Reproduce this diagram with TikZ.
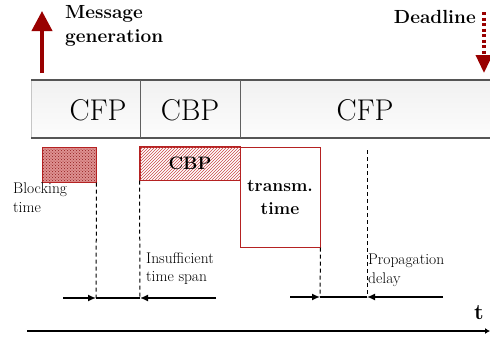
\documentclass[tikz,border=0pt]{standalone}
\usetikzlibrary{arrows.meta,patterns}
\definecolor{dred}{HTML}{990000}
\definecolor{bred}{HTML}{B52222}
\definecolor{hred}{HTML}{C84848}
\definecolor{dgray}{HTML}{555555}
\begin{document}
\begin{tikzpicture}[x=1pt,y=-1pt,
  bandtext/.style={font=\fontsize{30}{34}\selectfont, inner sep=0pt},
  lbl/.style={font=\fontsize{15.5}{18.5}\selectfont, align=left, inner sep=0pt, anchor=north west},
  boldlbl/.style={font=\fontsize{19}{24}\selectfont\bfseries, align=left, inner sep=0pt},
  redbox/.style={draw=bred, line width=1pt, inner sep=0pt},
  guide/.style={draw=black, line width=1pt, dash pattern=on 4pt off 3pt},
  span/.style={draw=black, line width=1.5pt, -{Latex[length=8pt,width=7pt]}},
  plain/.style={draw=black, line width=1.5pt}
]
\useasboundingbox (0,0) rectangle (490,341);

% frame band
\fill[top color=gray!11, bottom color=gray!2] (31,80) rectangle (490,138);
\draw[gray!45, line width=0.8pt] (31,80) -- (31,138);
\draw[dgray, line width=1.3pt] (31,80) -- (490,80);
\draw[dgray, line width=1.3pt] (31,138) -- (490,138);
\draw[gray!75!black, line width=1pt] (140,80) -- (140,138);
\draw[gray!75!black, line width=1pt] (240,80) -- (240,138);
\node[bandtext] (cfpa) at (98,110) {CFP};
\node[bandtext] (cbpa) at (190,110) {CBP};
\node[bandtext] (cfpb) at (365,110) {CFP};

% message generation
\coordinate (mgb) at (42,73);
\coordinate (mgt) at (42,11);
\draw[dred, line width=4pt, -{Triangle[width=20pt,length=20pt]}] (mgb) -- (mgt);
\node[boldlbl, anchor=north west] (msg) at (65,5) {Message\\generation};

% deadline
\coordinate (dlt) at (484,12);
\coordinate (dlb) at (484,73);
\draw[dred, line width=3.5pt, dash pattern=on 3pt off 2.5pt, -{Triangle[width=16pt,length=18pt]}] (dlt) -- (dlb);
\node[boldlbl, anchor=east] (dl) at (476,17) {Deadline};

% boxes
\node[redbox, minimum width=53pt, minimum height=34pt] (blk) at (69.5,165) {};
\fill[hred!60] (blk.south west) rectangle (blk.north east);
\fill[pattern=crosshatch dots, pattern color=bred!80!black] (blk.south west) rectangle (blk.north east);
\draw[bred, line width=1pt] (blk.south west) rectangle (blk.north east);

\node[redbox, minimum width=100pt, minimum height=33pt] (cbpb) at (190,163.5) {};
\fill[pattern=north east lines, pattern color=hred] (cbpb.south west) rectangle (cbpb.north east);
\draw[bred, line width=1pt] (cbpb.south west) rectangle (cbpb.north east);
\node[font=\fontsize{18}{20}\selectfont\bfseries, inner sep=0pt] (cbpt) at (cbpb.center) {CBP};

\node[redbox, fill=white, minimum width=80pt, minimum height=100pt, align=center,
      font=\fontsize{17.5}{23}\selectfont\bfseries] (tx) at (280,197) {transm.\\time};

% labels
\node[lbl] (blab) at (13,183) {Blocking\\time};
\node[lbl] (ilab) at (146,252) {Insufficient\\time span};
\node[lbl] (plab) at (368,254) {Propagation\\delay};

% guides
\coordinate (g1) at (96,298);
\coordinate (g2) at (140,298);
\coordinate (g3) at (320,297);
\coordinate (g4) at (367,297);
\coordinate (g4t) at (367,150);
\draw[guide] (blk.south east) -- (g1);
\draw[guide] (cbpb.south west) -- (g2);
\draw[guide] (tx.south east) -- (g3);
\draw[guide] (g4t) -- (g4);

% span arrows
\coordinate (s1) at (63,298);
\coordinate (s2) at (216,298);
\coordinate (s3) at (290,297);
\coordinate (s4) at (443,297);
\draw[plain] (g1) -- (g2);
\draw[span] (s1) -- (g1);
\draw[span] (s2) -- (g2);
\draw[plain] (g3) -- (g4);
\draw[span] (s3) -- (g3);
\draw[span] (s4) -- (g4);

% time axis
\coordinate (ta) at (27,331);
\coordinate (tb) at (490,331);
\draw[black, line width=1.5pt, -{Latex[length=5pt,width=6pt]}] (ta) -- (tb);
\node[font=\fontsize{22}{24}\selectfont\bfseries, inner sep=0pt] (tl) at (479,313) {t};
\end{tikzpicture}
\end{document}
